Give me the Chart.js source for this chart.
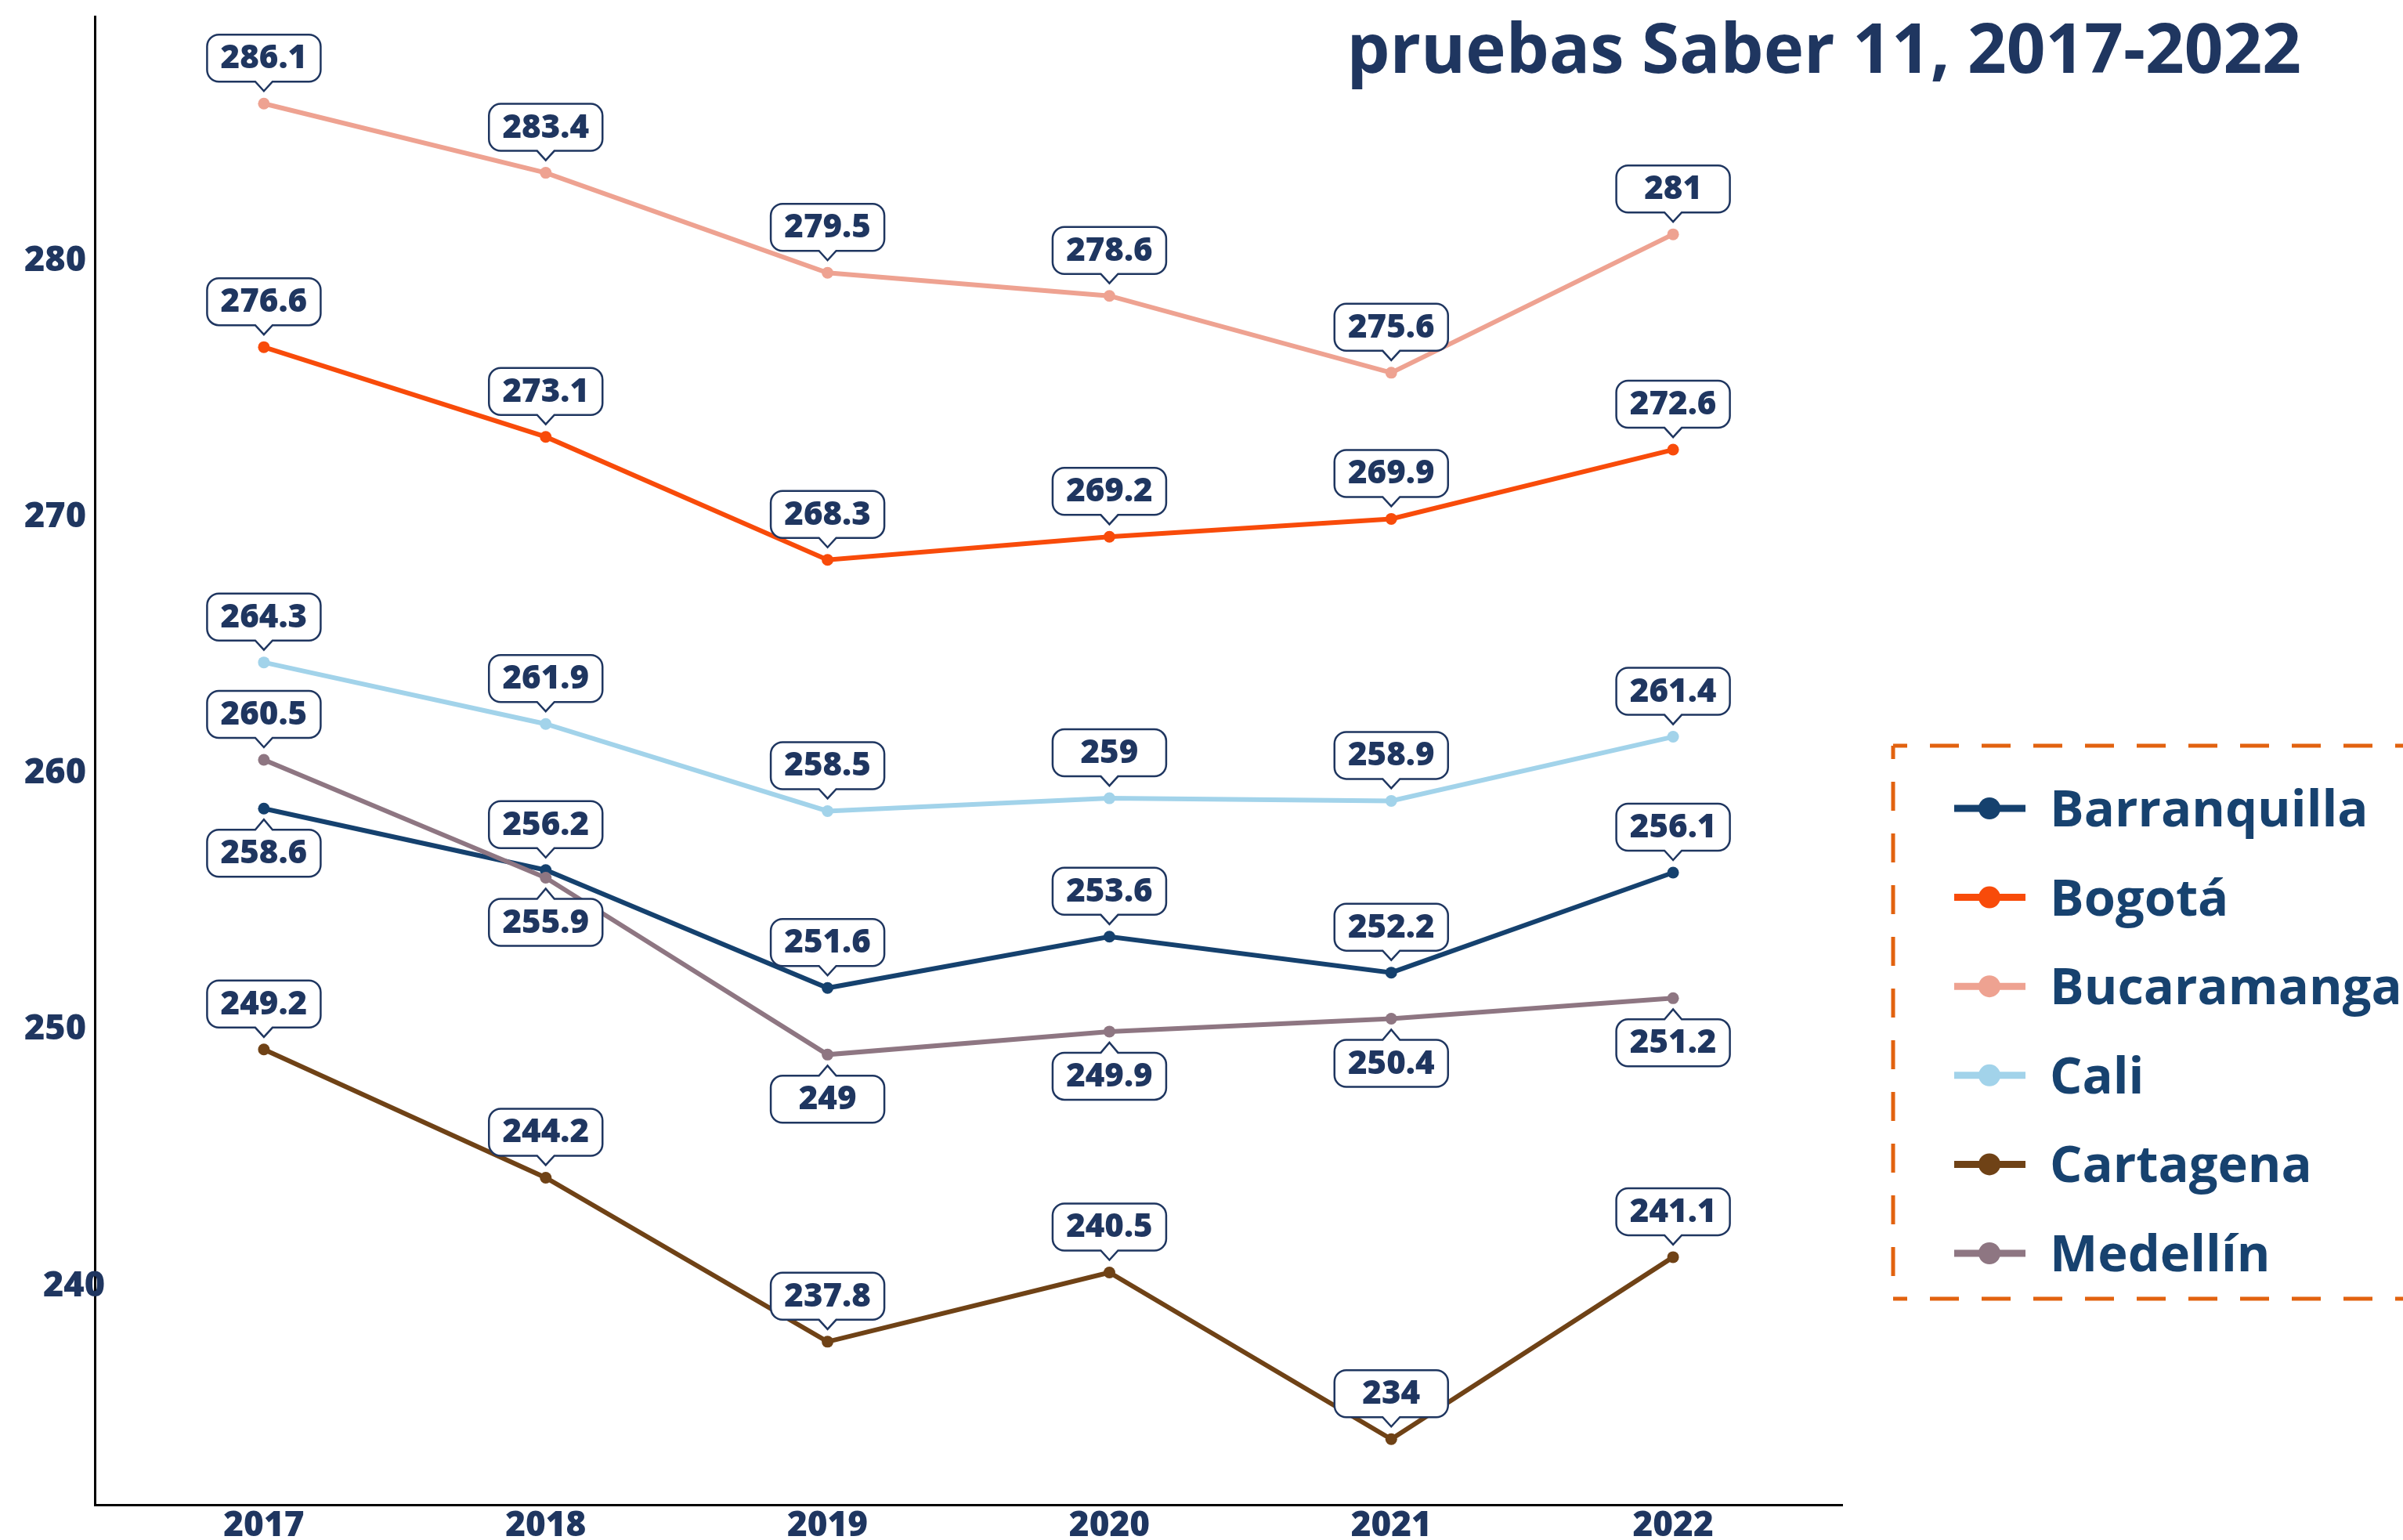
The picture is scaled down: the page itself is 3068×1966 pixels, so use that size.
<!DOCTYPE html>
<html lang="es">
<head>
<meta charset="utf-8">
<title>Pruebas Saber 11, 2017-2022</title>
<script src="https://cdn.jsdelivr.net/npm/chart.js@4.4.1/dist/chart.umd.min.js"></script>
<style>
  html, body { margin: 0; padding: 0; background: #fff; }
  canvas { display: block; }
</style>
</head>
<body>
<canvas id="chart" width="3068" height="1966"></canvas>
<script>
const years = [2017, 2018, 2019, 2020, 2021, 2022];
const cities = ['Barranquilla', 'Bogotá', 'Bucaramanga', 'Cali', 'Cartagena', 'Medellín'];
const barranquilla = [258.6, 256.2, 251.6, 253.6, 252.2, 256.1];
const bogota = [276.6, 273.1, 268.3, 269.2, 269.9, 272.6];
const bucaramanga = [286.1, 283.4, 279.5, 278.6, 275.6, 281];
const cali = [264.3, 261.9, 258.5, 259, 258.9, 261.4];
const cartagena = [249.2, 244.2, 237.8, 240.5, 234, 241.1];
const medellin = [260.5, 255.9, 249, 249.9, 250.4, 251.2];
const yTicks = [240, 250, 260, 270, 280];
const title = 'pruebas Saber 11, 2017-2022';

const seriesValues = [barranquilla, bogota, bucaramanga, cali, cartagena, medellin];
const colors = ['#15416e', '#f84b0a', '#eea291', '#a2d3ea', '#6f4216', '#8e7682'];

const NAVY = '#1f3660';
const FONT = "'Open Sans', sans-serif";

// callouts sit above the point, except these ones
const labelsBelow = {
    'Barranquilla': [2017],
    'Medellín': [2018, 2019, 2020, 2021, 2022]
};

function calloutPath(ctx, x, y, w, h, r, tipX, tipY, below) {
    const hw = 11;
    ctx.beginPath();
    ctx.moveTo(x + r, y);
    if (below) { ctx.lineTo(tipX - hw, y); ctx.lineTo(tipX, tipY); ctx.lineTo(tipX + hw, y); }
    ctx.lineTo(x + w - r, y);
    ctx.arcTo(x + w, y, x + w, y + r, r);
    ctx.lineTo(x + w, y + h - r);
    ctx.arcTo(x + w, y + h, x + w - r, y + h, r);
    if (!below) { ctx.lineTo(tipX + hw, y + h); ctx.lineTo(tipX, tipY); ctx.lineTo(tipX - hw, y + h); }
    ctx.lineTo(x + r, y + h);
    ctx.arcTo(x, y + h, x, y + h - r, r);
    ctx.lineTo(x, y + r);
    ctx.arcTo(x, y, x + r, y, r);
    ctx.closePath();
}

const calloutPlugin = {
    id: 'callouts',
    afterDatasetsDraw(chart) {
        const ctx = chart.ctx;
        ctx.save();
        ctx.font = `800 42px ${FONT}`;
        ctx.textAlign = 'center';
        ctx.textBaseline = 'middle';
        chart.data.datasets.forEach((ds, di) => {
            const below = labelsBelow[ds.label] || [];
            chart.getDatasetMeta(di).data.forEach((pt, i) => {
                const v = ds.data[i];
                const isBelow = below.includes(v.x);
                const text = String(v.y);
                const w = Math.max(145, ctx.measureText(text).width + 34);
                const h = 60;
                const bx = pt.x - w / 2;
                const by = isBelow ? pt.y + 27 : pt.y - 28 - h;
                const tipY = isBelow ? pt.y + 14 : pt.y - 16;
                calloutPath(ctx, bx, by, w, h, 15, pt.x, tipY, isBelow);
                ctx.fillStyle = '#fff';
                ctx.fill();
                ctx.strokeStyle = NAVY;
                ctx.lineWidth = 2.5;
                ctx.stroke();
                ctx.fillStyle = NAVY;
                ctx.fillText(text, pt.x, by + h / 2 + 1);
            });
        });
        ctx.restore();
    }
};

const yLabelPlugin = {
    id: 'yLabels',
    afterDraw(chart) {
        const ctx = chart.ctx;
        const ys = chart.scales.y;
        const right = chart.chartArea.left - 11;
        ctx.save();
        ctx.font = `800 45px ${FONT}`;
        ctx.fillStyle = NAVY;
        ctx.textAlign = 'right';
        ctx.textBaseline = 'middle';
        yTicks.forEach(t => {
            // the lowest label runs over the axis line in the original
            const x = t === 240 ? right + 24 : right;
            ctx.fillText(String(t), x, ys.getPixelForValue(t) + 1);
        });
        ctx.restore();
    }
};

const legendPlugin = {
    id: 'boxLegend',
    afterDraw(chart) {
        const ctx = chart.ctx;
        const left = 2417, top = 952, bottom = 1658, right = chart.width + 20;
        ctx.save();
        ctx.strokeStyle = '#e2620f';
        ctx.lineWidth = 5;
        ctx.setLineDash([37, 29]);
        [top, bottom].forEach(y => {
            ctx.lineDashOffset = 19;
            ctx.beginPath(); ctx.moveTo(left, y); ctx.lineTo(right, y); ctx.stroke();
        });
        ctx.lineDashOffset = 20;
        ctx.beginPath(); ctx.moveTo(left, top); ctx.lineTo(left, bottom); ctx.stroke();
        ctx.setLineDash([]);

        chart.data.datasets.forEach((ds, i) => {
            const y = 1032 + i * 113.6;
            ctx.strokeStyle = ds.borderColor;
            ctx.lineWidth = 9;
            ctx.beginPath(); ctx.moveTo(2495, y); ctx.lineTo(2586, y); ctx.stroke();
            ctx.fillStyle = ds.borderColor;
            ctx.beginPath(); ctx.arc(2540, y, 14, 0, Math.PI * 2); ctx.fill();
            ctx.fillStyle = '#17426f';
            ctx.font = `bold 65px ${FONT}`;
            ctx.textAlign = 'left';
            ctx.textBaseline = 'alphabetic';
            ctx.fillText(ds.label, 2617, y + 23);
        });
        ctx.restore();
    }
};

const titlePlugin = {
    id: 'cornerTitle',
    afterDraw(chart) {
        const ctx = chart.ctx;
        ctx.save();
        ctx.font = `bold 87px ${FONT}`;
        ctx.fillStyle = NAVY;
        ctx.textAlign = 'right';
        ctx.textBaseline = 'alphabetic';
        ctx.fillText(title, 2938, 93);
        ctx.restore();
    }
};

Chart.defaults.font.family = FONT;

new Chart(document.getElementById('chart'), {
    type: 'line',
    data: {
        datasets: cities.map((name, i) => ({
            label: name,
            data: years.map((yr, j) => ({ x: yr, y: seriesValues[i][j] })),
            borderColor: colors[i],
            backgroundColor: colors[i],
            borderWidth: 6,
            pointRadius: 7.5,
            pointHoverRadius: 7.5,
            pointBorderWidth: 0,
            tension: 0,
            order: cities.length - 1 - i
        }))
    },
    options: {
        responsive: false,
        animation: false,
        devicePixelRatio: 1,
        layout: { padding: { top: 21, right: 716, bottom: 0, left: 0 } },
        plugins: { legend: { display: false }, tooltip: { enabled: false } },
        scales: {
            x: {
                type: 'linear', min: 2016.4, max: 2022.6,
                grid: { display: false, drawTicks: false },
                border: { display: true, color: '#000', width: 3 },
                ticks: {
                    stepSize: 1, includeBounds: false, autoSkip: false, maxRotation: 0,
                    color: NAVY, padding: 5,
                    font: { size: 44, weight: 800, lineHeight: 1 },
                    callback: v => String(v)
                },
                afterFit: s => { s.height = 45; }
            },
            y: {
                min: 231.44, max: 289.5,
                grid: { display: false, drawTicks: false },
                border: { display: true, color: '#000', width: 3 },
                ticks: { display: false },
                afterFit: s => { s.width = 121; }
            }
        }
    },
    plugins: [calloutPlugin, yLabelPlugin, legendPlugin, titlePlugin]
});
</script>
</body>
</html>
